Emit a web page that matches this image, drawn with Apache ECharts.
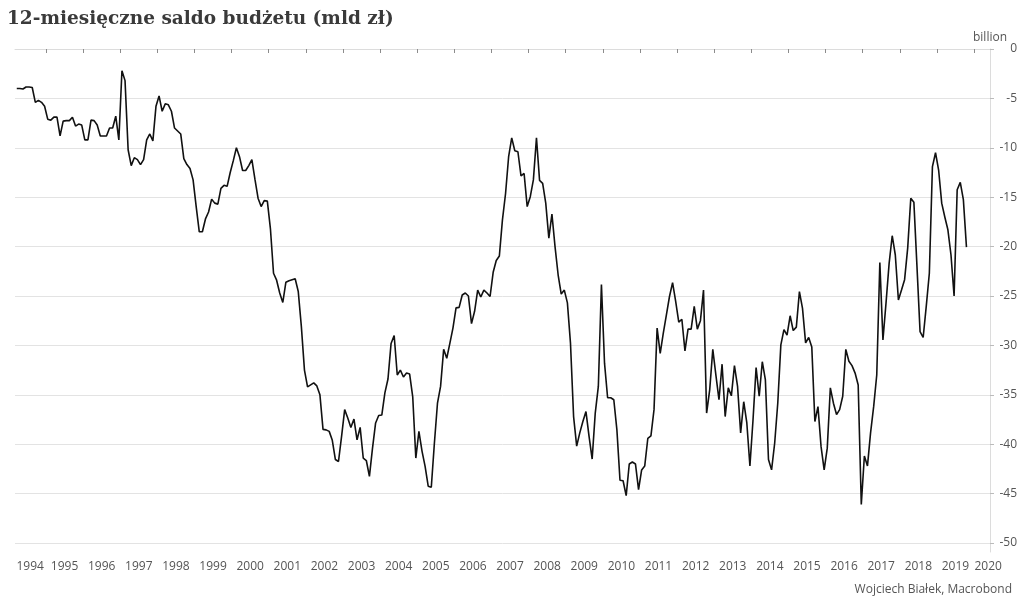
<!DOCTYPE html>
<html>
<head>
<meta charset="utf-8">
<script src="https://cdn.jsdelivr.net/npm/echarts@6/dist/echarts.min.js"></script>
<style>html,body{margin:0;padding:0;background:#fff}#c{width:1024px;height:608px}</style>
</head>
<body>
<div id="c"></div>
<script>
// Monthly 12-month budget balance (bn PLN)
var startMonth = '1994-03';
var values = [
  -4.0, -4.0, -4.05, -3.85, -3.85, -3.9, -5.4, -5.2, -5.4, -5.8,
  -7.1, -7.2, -6.9, -6.9, -8.8, -7.3, -7.25, -7.25, -6.9, -7.8, -7.6, -7.7,
  -9.2, -9.2, -7.2, -7.25, -7.7, -8.8, -8.8, -8.8, -8.0, -8.0, -6.8, -9.2,
  -2.2, -3.2, -10.2, -11.8, -11.0, -11.2, -11.7, -11.2, -9.2, -8.6, -9.3, -5.8,
  -4.75, -6.3, -5.55, -5.65, -6.3, -8.0, -8.3, -8.6, -11.1, -11.7, -12.1, -13.25,
  -15.95, -18.5, -18.5, -17.2, -16.5, -15.2, -15.6, -15.7, -14.1, -13.8, -13.9, -12.5,
  -11.3, -10.0, -10.9, -12.3, -12.3, -11.8, -11.2, -13.2, -15.1, -15.95, -15.35, -15.4,
  -18.2, -22.7, -23.4, -24.7, -25.65, -23.6, -23.45, -23.35, -23.25, -24.55, -28.1, -32.5,
  -34.2, -34.0, -33.8, -34.1, -35.0, -38.5, -38.55, -38.7, -39.6, -41.55, -41.75, -39.2,
  -36.5, -37.35, -38.3, -37.45, -39.55, -38.3, -41.4, -41.65, -43.25, -40.4, -37.85, -37.1,
  -37.05, -34.8, -33.4, -29.8, -29.0, -33.0, -32.5, -33.2, -32.8, -32.9, -35.2, -41.4,
  -38.7, -40.7, -42.25, -44.25, -44.35, -39.9, -35.85, -34.15, -30.4, -31.3, -29.8, -28.25,
  -26.2, -26.15, -24.9, -24.7, -25.0, -27.8, -26.55, -24.4, -25.1, -24.4, -24.7, -25.05,
  -22.6, -21.4, -20.95, -17.3, -14.65, -10.9, -9.0, -10.3, -10.4, -12.85, -12.6, -15.95,
  -14.95, -13.25, -9.0, -13.3, -13.6, -15.6, -19.15, -16.7, -20.0, -22.85, -24.8, -24.4,
  -25.7, -29.8, -37.2, -40.2, -38.85, -37.7, -36.7, -39.2, -41.5, -36.85, -34.15, -23.85,
  -31.8, -35.3, -35.3, -35.5, -38.55, -43.65, -43.7, -45.2, -42.0, -41.8, -42.0, -44.6,
  -42.6, -42.2, -39.4, -39.15, -36.5, -28.25, -30.8, -28.75, -26.9, -25.05, -23.65, -25.55,
  -27.65, -27.35, -30.55, -28.35, -28.35, -26.05, -28.35, -27.5, -24.4, -36.85, -34.5, -30.4,
  -33.0, -35.5, -31.9, -37.2, -34.3, -35.1, -32.05, -34.15, -38.85, -35.7, -37.85, -42.2,
  -37.55, -32.25, -35.15, -31.65, -33.5, -41.55, -42.6, -39.9, -35.85, -29.95, -28.4, -28.95,
  -27.0, -28.5, -28.15, -24.55, -26.25, -29.75, -29.2, -30.15, -37.7, -36.2, -40.25, -42.6,
  -40.4, -34.3, -35.85, -37.0, -36.5, -35.15, -30.4, -31.6, -32.05, -32.8, -34.0, -46.1,
  -41.2, -42.2, -38.85, -36.2, -33.0, -21.6, -29.45, -25.7, -21.7, -18.9, -20.85, -25.4,
  -24.4, -23.35, -20.15, -15.1, -15.5, -22.0, -28.6, -29.2, -26.05, -22.7, -11.9, -10.5,
  -12.25, -15.6, -17.0, -18.3, -20.85, -25.0, -14.25, -13.5, -15.25, -20.05
];
var tickYears = [1995,1996,1997,1998,1999,2000,2001,2002,2003,2004,2005,2006,2007,2008,2009,2010,2011,2012,2013,2014,2015,2016,2017,2018,2019,2020];
var labelYears = [1994,1995,1996,1997,1998,1999,2000,2001,2002,2003,2004,2005,2006,2007,2008,2009,2010,2011,2012,2013,2014,2015,2016,2017,2018,2019,2020];
var yTicks = [0,-5,-10,-15,-20,-25,-30,-35,-40,-45,-50];
var titleText = '12-miesięczne saldo budżetu (mld zł)';
var unitText = 'billion';
var sourceText = 'Wojciech Białek, Macrobond';

// build month list
var months = [];
(function(){
  var p = startMonth.split('-'); var y = +p[0], m = +p[1];
  for (var i = 0; i < values.length; i++) {
    months.push(y + '-' + (m < 10 ? '0' + m : m));
    m++; if (m > 12) { m = 1; y++; }
  }
})();
function monthToYear(s){ var p = s.split('-'); return +p[0] + (+p[1] - 1 + 0.55) / 12; }
var seriesData = months.map(function(s, i){ return [monthToYear(s), values[i]]; });

var xMin = 1994.165, xMax = 2020.43;
// year labels at mid-year, kept inside the plotted range
var labelPos = labelYears.map(function(y){
  return Math.min(Math.max(y + 0.5, xMin + 0.41), xMax - 0.05);
});

var chart = echarts.init(document.getElementById('c'), null, {renderer: 'canvas'});
var labelFont = 'Open Sans';
chart.setOption({
  animation: false,
  backgroundColor: '#fff',
  title: {
    text: titleText, left: 7, top: 10, padding: 0,
    textStyle: {fontFamily: 'DejaVu Serif', fontWeight: 'bold', fontSize: 18.5, color: '#3a3a3a'}
  },
  grid: {left: 15, right: 34, top: 49, bottom: 56, containLabel: false},
  xAxis: {
    type: 'value', min: xMin, max: xMax,
    axisLine: {show: true, lineStyle: {color: '#dcdcdc', width: 1}},
    axisTick: {show: true, customValues: tickYears, length: 4, lineStyle: {color: '#8c8c8c'}},
    axisLabel: {
      customValues: labelPos, margin: 9, showMaxLabel: true, showMinLabel: true, hideOverlap: false,
      formatter: function(v){ return String(Math.floor(v + 1e-6)); },
      fontFamily: labelFont, fontSize: 12, color: '#555'
    },
    splitLine: {show: false}
  },
  yAxis: {
    type: 'value', position: 'right', min: -50.91, max: 0,
    name: unitText, nameLocation: 'end', nameGap: 1,
    nameTextStyle: {fontFamily: labelFont, fontSize: 12, color: '#555', align: 'center', verticalAlign: 'bottom'},
    axisLine: {show: true, lineStyle: {color: '#dcdcdc', width: 1}},
    axisTick: {show: true, customValues: yTicks, length: 4, lineStyle: {color: '#bbb'}},
    axisLabel: {customValues: yTicks, margin: 27, align: 'right', fontFamily: labelFont, fontSize: 12, color: '#555'},
    splitLine: {show: true, lineStyle: {color: '#e3e3e3', width: 1}}
  },
  graphic: [{
    type: 'text', right: 12, top: 584,
    style: {text: sourceText, font: '12px "Open Sans"', fill: '#555'}
  }],
  series: [{
    type: 'line', data: seriesData, showSymbol: false, symbol: 'none',
    lineStyle: {color: '#111', width: 1.6}, z: 5
  }]
});
</script>
</body>
</html>
